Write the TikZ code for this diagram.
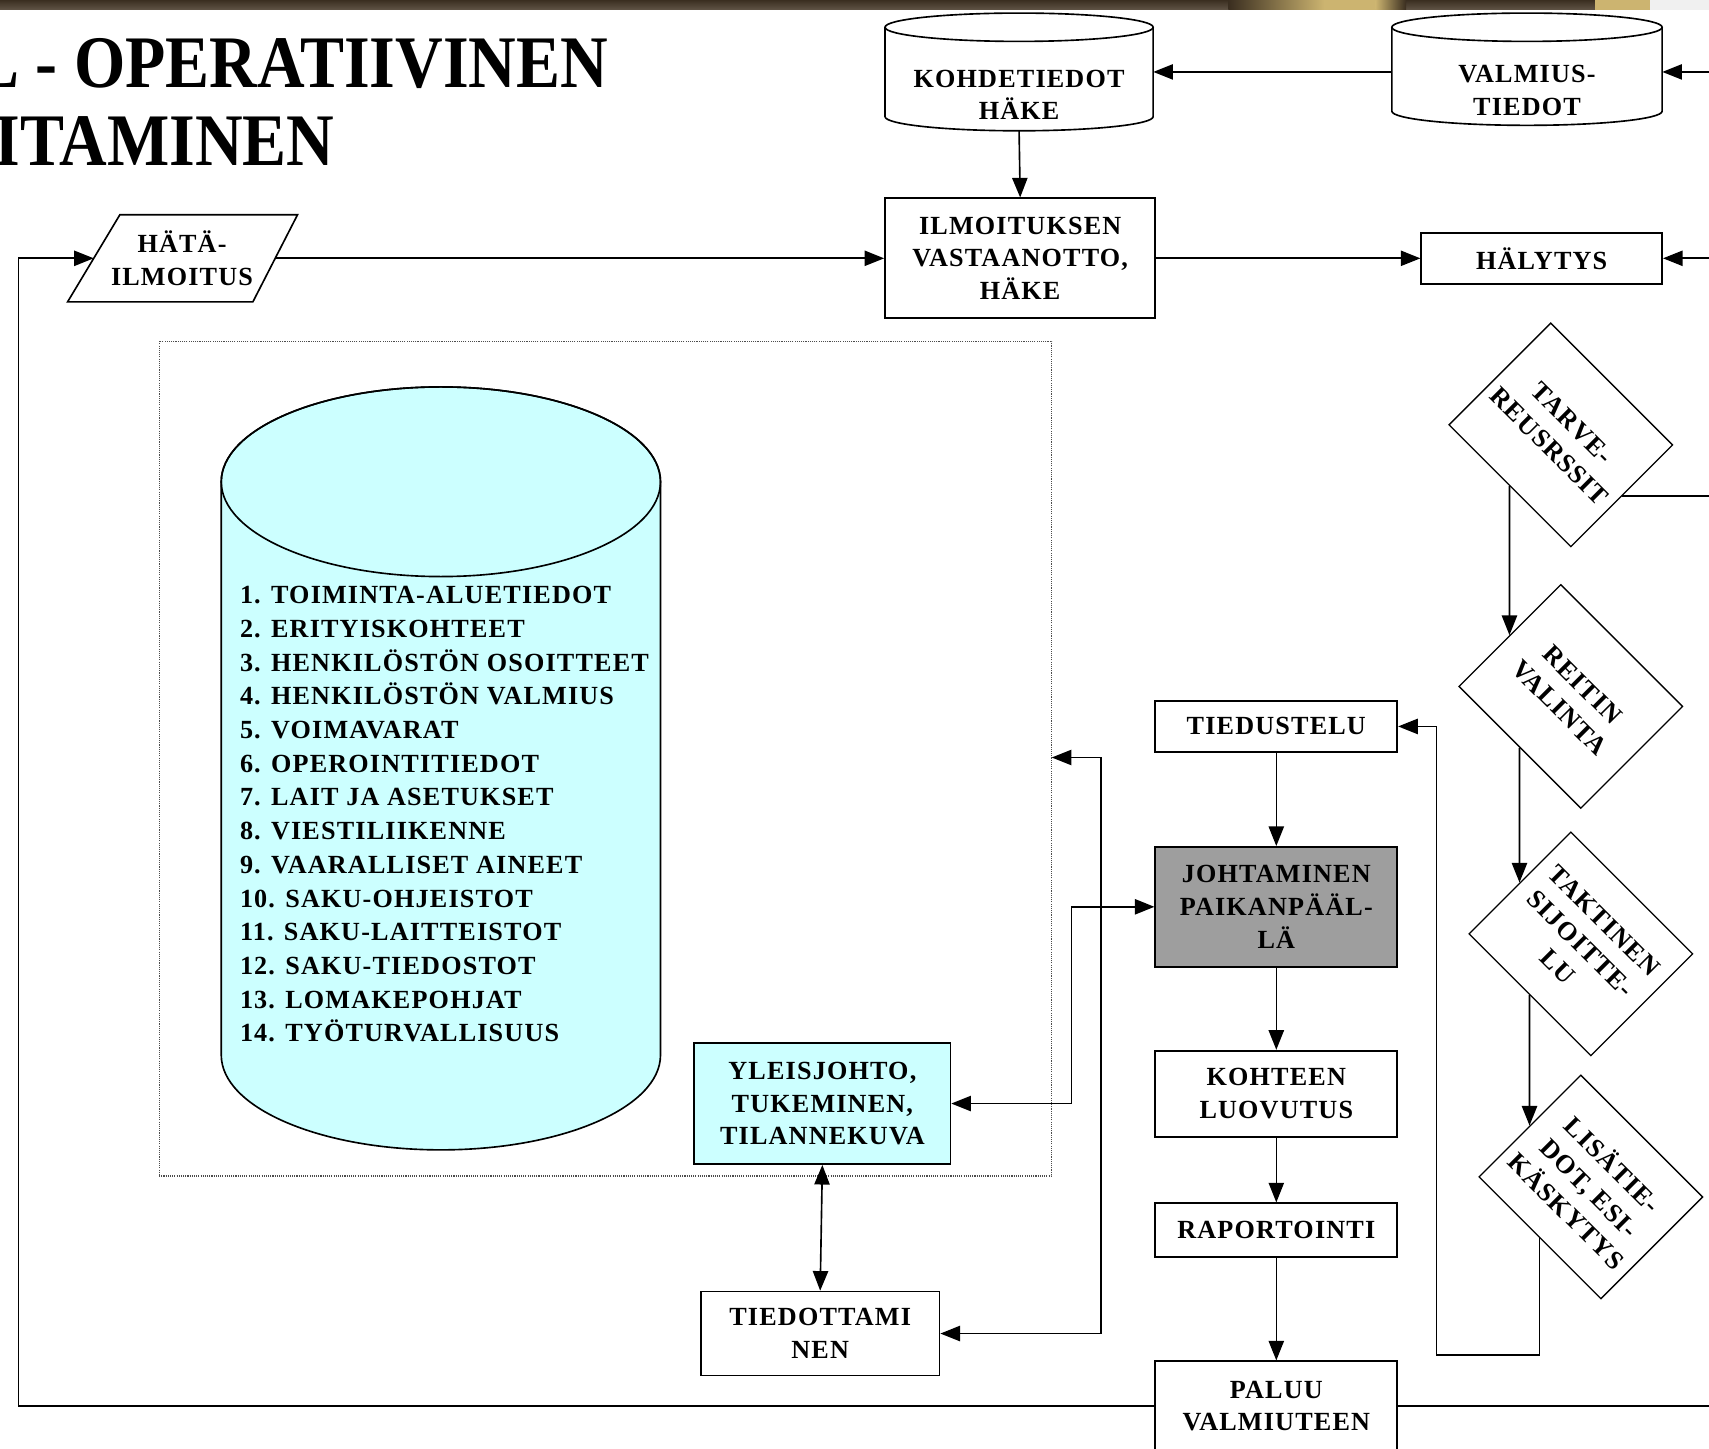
\documentclass[tikz,border=0pt]{standalone}
\usepackage{fontspec}
\setmainfont{Liberation Serif}
\newfontfamily\lblfont[LetterSpace=4.5]{Liberation Serif}
\newfontfamily\titlefont{Liberation Serif}
\usetikzlibrary{arrows.meta,calc}

\definecolor{cyanfill}{RGB}{204,255,255}
\definecolor{boxgray}{RGB}{158,158,158}
\definecolor{banddark}{RGB}{58,46,32}
\definecolor{bandlow}{RGB}{96,84,70}
\definecolor{bandgold}{RGB}{204,180,112}

\tikzset{
  lbl/.style={font=\lblfont\bfseries\fontsize{24}{30}\selectfont, align=center, inner sep=0pt},
  box/.style={lbl, draw, line width=1.6pt, rectangle},
  diam/.style={lbl, draw, line width=1.2pt, rectangle, minimum width=158pt, minimum height=132pt, rotate=-45},
  wire/.style={line width=1.5pt},
  arr/.style={wire, -{Triangle[length=18pt,width=14pt]}},
  dbarr/.style={wire, {Triangle[length=18pt,width=14pt]}-{Triangle[length=18pt,width=14pt]}},
  titletxt/.style={font=\titlefont\bfseries\fontsize{68}{68}\selectfont, inner sep=0pt},
  cyl/.style={line width=1.5pt},
}

\begin{document}
\begin{tikzpicture}[x=1pt,y=-1pt]
\useasboundingbox (0,0) rectangle (1568,1329);
\clip (0,0) rectangle (1568,1329);

% header band
\shade[top color=banddark, bottom color=bandlow] (0,0) rectangle (1568,9);
\shade[left color=banddark, right color=bandgold] (1127,0) rectangle (1215,9);
\fill[bandgold] (1215,0) rectangle (1262,9);
\shade[left color=bandgold, right color=banddark] (1262,0) rectangle (1290,9);
\fill[bandgold] (1463,0) rectangle (1514,9);
\fill[gray!12] (1514,0) rectangle (1568,9);

% title
\node[titletxt, anchor=base east] (title1) at (558,80) {\scalebox{0.89}[1]{L - OPERATIIVINEN}};
\node[titletxt, anchor=base east] (title2) at (307,152) {\scalebox{0.89}[1]{ITAMINEN}};

% right rim reference
\coordinate (rim) at (1568,0);
\coordinate (loopL) at (17,0);

% small data stores
\node[minimum width=246pt, minimum height=108pt, inner sep=0pt] (kohde) at (935,66) {};
\draw[cyl] (812,25) -- (812,107) arc[start angle=180,end angle=360,x radius=123pt,y radius=13pt] -- (1058,25);
\draw[cyl] (935,25) ellipse [x radius=123pt, y radius=13pt];
\node[lbl] (kohdetxt) at (935,87) {KOHDETIEDOT\\HÄKE};

\node[minimum width=248pt, minimum height=104pt, inner sep=0pt] (valmius) at (1401,66) {};
\draw[cyl] (1277,25) -- (1277,102) arc[start angle=180,end angle=360,x radius=124pt,y radius=13pt] -- (1525,25);
\draw[cyl] (1401,25) ellipse [x radius=124pt, y radius=13pt];
\node[lbl] (valmiustxt) at (1401,83) {VALMIUS-\\TIEDOT};

% emergency call (parallelogram)
\coordinate (hA) at (110,197);
\coordinate (hB) at (273,197);
\coordinate (hC) at (232,277);
\coordinate (hD) at (62,277);
\draw[line width=1.5pt] (hA) -- (hB) -- (hC) -- (hD) -- cycle;
\node[lbl] (hata) at (167,237) {HÄTÄ-\\ILMOITUS};
\coordinate (hataW) at ($(hA)!0.5!(hD)$);
\coordinate (hataE) at ($(hB)!0.5!(hC)$);

% top process boxes
\node[box, minimum width=248pt, minimum height=110pt] (ilmo) at (936,237) {ILMOITUKSEN\\VASTAANOTTO,\\HÄKE};
\node[box, minimum width=221pt, minimum height=47pt] (haly) at (1414.5,237) {HÄLYTYS};

% dotted frame around the information system
\draw[densely dotted, line width=1pt, gray!60!black] (146,313) rectangle (965,1079);
\coordinate (dotE) at (965,695);

% large database cylinder
\filldraw[fill=cyanfill, cyl] (203,442) -- (203,968)
  arc[start angle=180,end angle=360,x radius=201.5pt,y radius=87pt] -- (606,442)
  arc[start angle=0,end angle=180,x radius=201.5pt,y radius=87pt] -- cycle;
\draw[cyl] (404.5,442) ellipse [x radius=201.5pt, y radius=87pt];
\node[lbl, align=left, anchor=north west, font=\lblfont\bfseries\fontsize{24}{30.9}\selectfont] (dblist) at (220,538)
 {1. TOIMINTA-ALUETIEDOT\\
  2. ERITYISKOHTEET\\
  3. HENKILÖSTÖN OSOITTEET\\
  4. HENKILÖSTÖN VALMIUS\\
  5. VOIMAVARAT\\
  6. OPEROINTITIEDOT\\
  7. LAIT JA ASETUKSET\\
  8. VIESTILIIKENNE\\
  9. VAARALLISET AINEET\\
  10. SAKU-OHJEISTOT\\
  11. SAKU-LAITTEISTOT\\
  12. SAKU-TIEDOSTOT\\
  13. LOMAKEPOHJAT\\
  14. TYÖTURVALLISUUS};

% support boxes
\node[box, fill=cyanfill, minimum width=235pt, minimum height=111pt] (yleis) at (754.5,1012.5) {YLEISJOHTO,\\TUKEMINEN,\\TILANNEKUVA};
\node[box, minimum width=219pt, minimum height=77pt] (tiedot) at (752.5,1223.5) {TIEDOTTAMI\\NEN};

% main column
\node[box, minimum width=222pt, minimum height=47pt] (tiedu) at (1171,666.5) {TIEDUSTELU};
\node[box, fill=boxgray, minimum width=222pt, minimum height=110pt] (johto) at (1171,832) {JOHTAMINEN\\PAIKANPÄÄL-\\LÄ};
\node[box, minimum width=222pt, minimum height=79pt] (kohteen) at (1171,1003.5) {KOHTEEN\\LUOVUTUS};
\node[box, minimum width=222pt, minimum height=49pt] (rapo) at (1171,1128.5) {RAPORTOINTI};
\node[box, minimum width=222pt, minimum height=82pt] (paluu) at (1171,1290) {PALUU\\VALMIUTEEN};

% decision diamonds
\node[diam] (tarve) at (1432,399) {TARVE-\\REUSRSSIT};
\node[diam] (reitin) at (1441.2,639) {REITIN\\VALINTA};
\node[diam] (takt) at (1450.4,866) {TAKTINEN\\SIJOITTE-\\LU};
\node[diam] (lisa) at (1459.6,1089) {LISÄTIE-\\DOT, ESI-\\KÄSKYTYS};

% connectors: top row
\draw[arr] (valmius.west) -- (kohde.east);
\draw[arr] (valmius.east -| rim) -- (valmius.east);
\draw[arr] (kohde.south) -- (ilmo.north);
\draw[arr] (hataE) -- (ilmo.west);
\draw[arr] (ilmo.east) -- (haly.west);
\draw[arr] (haly.east -| rim) -- (haly.east);

% connectors: diamonds
\draw[wire] (tarve.east) -- (tarve.east -| rim);
\draw[arr] (tarve.south) -- (reitin.west);
\draw[arr] (reitin.south) -- (takt.west);
\draw[arr] (takt.south) -- (lisa.west);
\coordinate (loopB) at (1318,1243);
\draw[arr] (lisa.south) |- (loopB) |- (tiedu.east);

% connectors: main column
\draw[arr] (tiedu.south) -- (johto.north);
\draw[arr] (johto.south) -- (kohteen.north);
\draw[arr] (kohteen.south) -- (rapo.north);
\draw[arr] (rapo.south) -- (paluu.north);

% connectors: command to support
\coordinate (jA) at (983,832);
\coordinate (jB) at (1010,832);
\draw[arr] (jA) -- (johto.west);
\draw[arr] (jA) |- (yleis.east);
\draw[arr] (jB) |- (dotE);
\draw[arr] (jB) |- (tiedot.east);
\draw[dbarr] (yleis.south) -- (tiedot.north);

% return loop
\draw[wire] (paluu.east) -- (paluu.east -| rim);
\draw[arr] (paluu.west) -| (loopL |- hataW) -- (hataW);
\end{tikzpicture}
\end{document}
